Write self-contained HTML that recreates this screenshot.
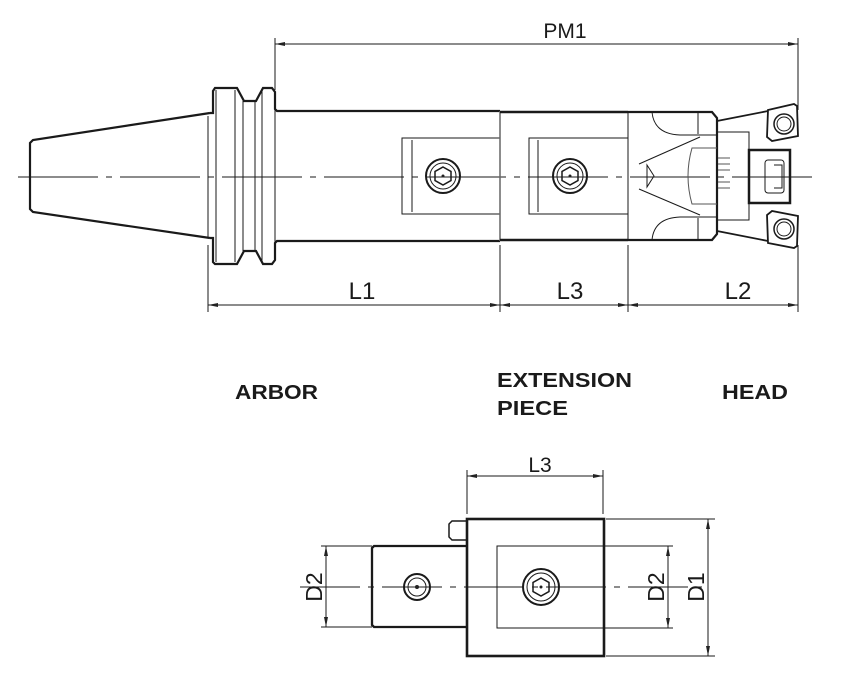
<!DOCTYPE html>
<html><head><meta charset="utf-8"><style>
html,body{margin:0;padding:0;background:#fff}
svg{display:block}
text{font-family:"Liberation Sans",sans-serif;fill:#1a1a1a}
</style></head><body>
<svg width="841" height="680" viewBox="0 0 841 680" xmlns="http://www.w3.org/2000/svg">
<defs>
<marker id="a" viewBox="0 0 10 6" refX="10" refY="3" markerWidth="10" markerHeight="6" orient="auto-start-reverse" markerUnits="userSpaceOnUse"><path d="M0,1 L10,3 L0,5 Z" fill="#222"/></marker>
</defs>
<g stroke="#1a1a1a" fill="none" stroke-width="1">
<line x1="275" y1="44" x2="798" y2="44" marker-start="url(#a)" marker-end="url(#a)"/>
<line x1="275" y1="38" x2="275" y2="90"/>
<line x1="798" y1="38" x2="798" y2="110"/>
<line x1="18" y1="177" x2="812" y2="177" stroke-dasharray="80,8,6,8"/>
<path d="M210,113 L33,140 L30,143 L30,209 L33,212 L210,238" stroke-width="2.2"/>
<path d="M210,113 L213,113 L213,91 L215,88 L237,88 L244,101 L256,101 L263,88 L272,88 L275,92 L275,109 L277,111 L500,111" stroke-width="2.2"/>
<path d="M210,238 L213,238 L213,262 L215,264 L237,264 L244,251 L256,251 L263,264 L272,264 L275,260 L275,243 L277,241 L500,241" stroke-width="2.2"/>
<line x1="208" y1="116" x2="208" y2="238"/>
<line x1="216" y1="90" x2="216" y2="262"/>
<line x1="235" y1="90" x2="235" y2="262"/>
<line x1="243" y1="101" x2="243" y2="251"/>
<line x1="255" y1="101" x2="255" y2="251"/>
<line x1="262" y1="90" x2="262" y2="262"/>
<line x1="275" y1="110" x2="275" y2="243"/>
<path d="M500,138 L402,138 L402,214 L500,214"/>
<line x1="412" y1="140" x2="412" y2="212"/>
<line x1="500" y1="111" x2="500" y2="241" stroke="#666" stroke-width="1.5"/>
<path d="M500,112 L628,112 M500,240 L628,240" stroke-width="2.4"/>
<path d="M628,138 L529,138 L529,214 L628,214"/>
<line x1="538" y1="140" x2="538" y2="212"/>
<line x1="628" y1="112" x2="628" y2="240"/>
<g>
<circle cx="443" cy="176" r="17" stroke-width="2"/><circle cx="443" cy="176" r="13"/>
<path d="M443,167 L451,171.5 L451,180.5 L443,185 L435,180.5 L435,171.5 Z" stroke-width="1.5"/>
<circle cx="570" cy="176" r="17" stroke-width="2"/><circle cx="570" cy="176" r="13"/>
<path d="M570,167 L578,171.5 L578,180.5 L570,185 L562,180.5 L562,171.5 Z" stroke-width="1.5"/>
</g>
<path d="M628,112 L712,112 L717,118 L717,234 L712,240 L628,240" stroke-width="2.2"/>
<line x1="698" y1="112" x2="698" y2="134"/>
<line x1="698" y1="218" x2="698" y2="240"/>
<path d="M652,112 Q654,134 680,135 L717,135"/>
<path d="M652,240 Q654,218 680,217 L717,217"/>
<line x1="639" y1="164" x2="700" y2="137"/>
<line x1="639" y1="189" x2="700" y2="215"/>
<path d="M647,165 L654,176 L647,187 Z"/>
<path d="M717,148 L692,148 Q684,176 692,204 L717,204" stroke="#555"/>
<g stroke="#555"><line x1="718" y1="158" x2="730" y2="158"/><line x1="718" y1="164" x2="730" y2="164"/><line x1="718" y1="170" x2="730" y2="170"/><line x1="718" y1="182" x2="730" y2="182"/><line x1="718" y1="188" x2="730" y2="188"/></g>
<path d="M717,121 L768,111 M717,231 L768,241" stroke-width="1.8"/>
<path d="M717,132 L749,132 L749,149 M717,220 L749,220 L749,204"/>
<rect x="749" y="150" width="41" height="53" stroke-width="2.5"/>
<rect x="765" y="160" width="19" height="33" rx="3"/>
<path d="M774,165 L782,165 L782,188 L774,188" />
<path d="M768,110 L794,104 L797,106 L798,136 L772,141 L767,137 Z" stroke-width="1.8"/>
<path d="M768,243 L794,248 L797,246 L798,216 L772,211 L767,215 Z" stroke-width="1.8"/>
<circle cx="784" cy="124" r="10" stroke-width="1.5"/><circle cx="784" cy="124" r="7"/>
<circle cx="784" cy="229" r="10" stroke-width="1.5"/><circle cx="784" cy="229" r="7"/>
<line x1="208" y1="245" x2="208" y2="312"/>
<line x1="500" y1="245" x2="500" y2="312"/>
<line x1="628" y1="245" x2="628" y2="312"/>
<line x1="798" y1="245" x2="798" y2="312"/>
<line x1="208" y1="305" x2="500" y2="305" marker-start="url(#a)" marker-end="url(#a)"/>
<line x1="500" y1="305" x2="628" y2="305" marker-start="url(#a)" marker-end="url(#a)"/>
<line x1="628" y1="305" x2="798" y2="305" marker-start="url(#a)" marker-end="url(#a)"/>
<line x1="300" y1="587" x2="710" y2="587" stroke-dasharray="60,8,6,8"/>
<rect x="467" y="519" width="137" height="137" stroke-width="2.6"/>
<path d="M467,546 L374,546 L372,548 L372,625 L374,627 L467,627" stroke-width="2.3"/>
<path d="M467,521 L452,521 L449,524 L449,537 L452,540 L467,540" stroke-width="1.5"/>
<rect x="497" y="546" width="107" height="82"/>
<circle cx="417" cy="587" r="13" stroke-width="2"/><circle cx="417" cy="587" r="9"/>
<circle cx="541" cy="587" r="18" stroke-width="2"/><circle cx="541" cy="587" r="14"/>
<path d="M541,578 L549,582.5 L549,591.5 L541,596 L533,591.5 L533,582.5 Z" stroke-width="1.5"/>
<line x1="467" y1="470" x2="467" y2="514"/>
<line x1="603" y1="470" x2="603" y2="514"/>
<line x1="467" y1="476" x2="603" y2="476" marker-start="url(#a)" marker-end="url(#a)"/>
<line x1="321" y1="546" x2="372" y2="546"/><line x1="321" y1="627" x2="372" y2="627"/>
<line x1="326" y1="546" x2="326" y2="627" marker-start="url(#a)" marker-end="url(#a)"/>
<line x1="604" y1="546" x2="673" y2="546"/><line x1="604" y1="628" x2="673" y2="628"/>
<line x1="668" y1="546" x2="668" y2="628" marker-start="url(#a)" marker-end="url(#a)"/>
<line x1="606" y1="519" x2="715" y2="519"/><line x1="606" y1="656" x2="715" y2="656"/>
<line x1="708" y1="519" x2="708" y2="656" marker-start="url(#a)" marker-end="url(#a)"/>
</g>
<g stroke="none" fill="#222">
<circle cx="443" cy="176" r="1.5"/><circle cx="570" cy="176" r="1.5"/>
<circle cx="417" cy="587" r="2"/><circle cx="541" cy="587" r="1.5"/>
</g>
<text x="565" y="38" font-size="21" text-anchor="middle">PM1</text>
<text x="362" y="299" font-size="24" text-anchor="middle">L1</text>
<text x="570" y="299" font-size="24" text-anchor="middle">L3</text>
<text x="738" y="299" font-size="24" text-anchor="middle">L2</text>
<text x="540" y="472" font-size="21" text-anchor="middle">L3</text>
<text x="235" y="399" font-size="20" font-weight="bold" textLength="83" lengthAdjust="spacingAndGlyphs">ARBOR</text>
<text x="497" y="387" font-size="20" font-weight="bold" textLength="135" lengthAdjust="spacingAndGlyphs">EXTENSION</text>
<text x="497" y="415" font-size="20" font-weight="bold" textLength="71" lengthAdjust="spacingAndGlyphs">PIECE</text>
<text x="722" y="399" font-size="20" font-weight="bold" textLength="66" lengthAdjust="spacingAndGlyphs">HEAD</text>
<text transform="translate(322,587) rotate(-90)" font-size="23" text-anchor="middle">D2</text>
<text transform="translate(664,587) rotate(-90)" font-size="23" text-anchor="middle">D2</text>
<text transform="translate(704,587) rotate(-90)" font-size="23" text-anchor="middle">D1</text>
</svg>
</body></html>
